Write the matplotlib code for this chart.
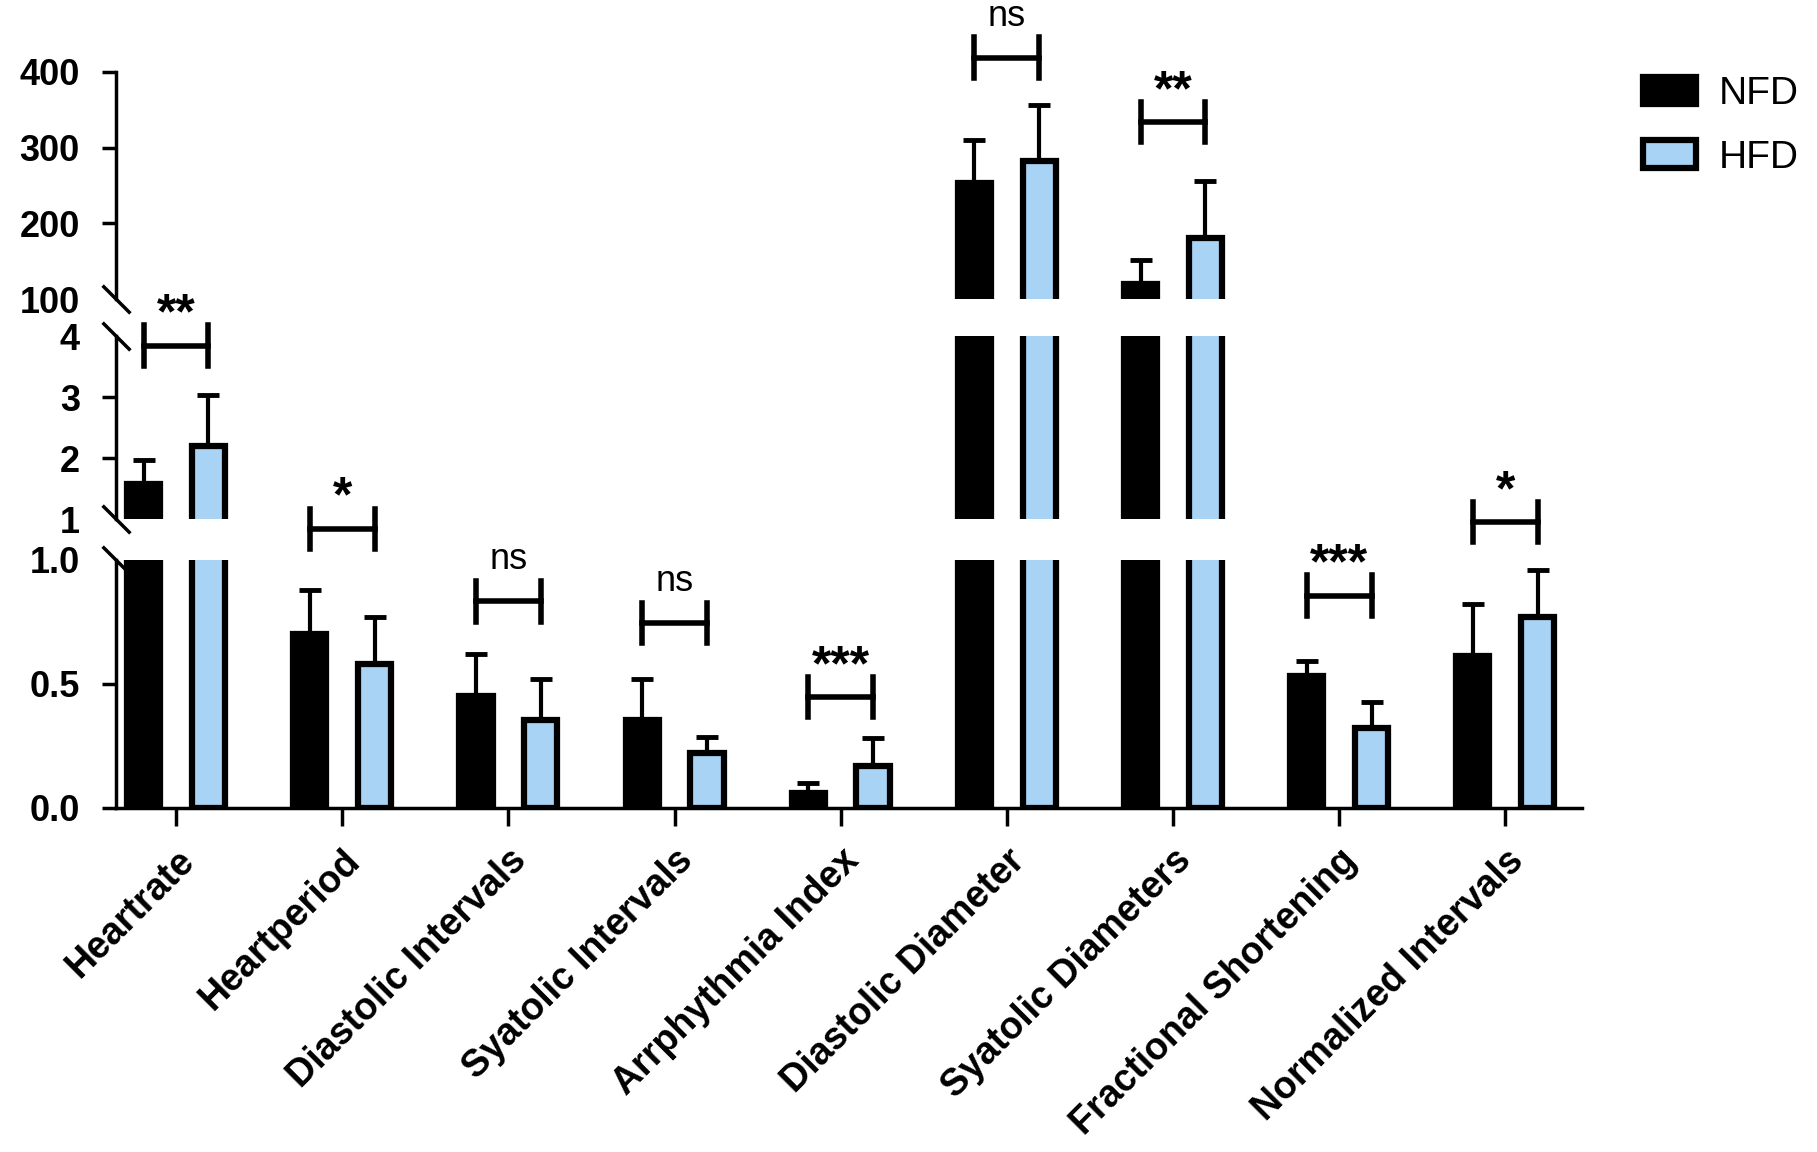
import numpy as np
import matplotlib
matplotlib.use("Agg")
import matplotlib.pyplot as plt
from matplotlib.patches import Patch
from matplotlib import transforms

plt.rcParams['font.family'] = ['Liberation Sans', 'DejaVu Sans']

# ---------------- data ----------------
CATEGORIES = ["Heartrate", "Heartperiod", "Diastolic Intervals", "Syatolic Intervals",
              "Arrphythmia Index", "Diastolic Diameter", "Syatolic Diameters",
              "Fractional Shortening", "Normalized Intervals"]
NFD_MEAN = [1.57, 0.70, 0.45, 0.355, 0.06, 253, 120, 0.53, 0.61]
NFD_SD = [0.40, 0.18, 0.17, 0.165, 0.04, 57, 32, 0.06, 0.21]
HFD_MEAN = [2.20, 0.58, 0.355, 0.22, 0.17, 282, 181, 0.32, 0.77]
HFD_SD = [0.83, 0.19, 0.165, 0.065, 0.11, 74, 75, 0.105, 0.19]
SIGNIF = ["**", "*", "ns", "ns", "***", "ns", "**", "***", "*"]

# bracket heights in figure fraction (annotation layout)
BRACKET_Y = [0.700, 0.541, 0.478, 0.459, 0.395, 0.950, 0.894, 0.483, 0.547]

NFD_COLOR = "#000000"
HFD_COLOR = "#a9d3f5"

BAR_W = 0.20
OFFSET = 0.195
EDGE_LW = 4.5

x = np.arange(len(CATEGORIES))

fig = plt.figure(figsize=(18.17, 11.52), dpi=100)

LEFT, WIDTH = 0.0638, 0.8067
ax_bot = fig.add_axes([LEFT, 0.2988, WIDTH, 0.2153])
ax_mid = fig.add_axes([LEFT, 0.5493, WIDTH, 0.1589], sharex=ax_bot)
ax_top = fig.add_axes([LEFT, 0.7404, WIDTH, 0.1972], sharex=ax_bot)

panels = [
    (ax_bot, (0, 1.0), [0.0, 0.5, 1.0], ["0.0", "0.5", "1.0"], [2]),
    (ax_mid, (1, 4), [1, 2, 3, 4], ["1", "2", "3", "4"], [0, 3]),
    (ax_top, (100, 400), [100, 200, 300, 400], ["100", "200", "300", "400"], [0]),
]

for ax, ylim, ticks, labels, hide in panels:
    ax.bar(x - OFFSET, NFD_MEAN, width=BAR_W, color=NFD_COLOR,
           edgecolor="black", linewidth=EDGE_LW, zorder=2)
    ax.bar(x + OFFSET, HFD_MEAN, width=BAR_W, color=HFD_COLOR,
           edgecolor="black", linewidth=EDGE_LW, zorder=2)
    ax.errorbar(x - OFFSET, NFD_MEAN, yerr=[np.zeros(len(x)), NFD_SD], fmt="none",
                ecolor="black", elinewidth=3, capsize=8, capthick=3.5, zorder=1)
    ax.errorbar(x + OFFSET, HFD_MEAN, yerr=[np.zeros(len(x)), HFD_SD], fmt="none",
                ecolor="black", elinewidth=3, capsize=8, capthick=3.5, zorder=1)
    ax.set_ylim(*ylim)
    ax.set_yticks(ticks)
    ax.set_yticklabels(labels, fontsize=26, fontweight="bold")
    for s in ["top", "right"]:
        ax.spines[s].set_visible(False)
    ax.spines["left"].set_linewidth(2.5)
    ax.tick_params(axis="y", length=10, width=2.5, direction="out", pad=16)
    for i in hide:
        ax.yaxis.get_major_ticks()[i].tick1line.set_visible(False)
    if ax is not ax_bot:
        ax.spines["bottom"].set_visible(False)
        ax.tick_params(axis="x", bottom=False, labelbottom=False)
    ax.patch.set_visible(False)

ax_bot.set_xlim(-0.362, 8.46)
ax_bot.spines["bottom"].set_linewidth(2.5)
ax_bot.set_xticks(x)
ax_bot.set_xticklabels(CATEGORIES, rotation=45, ha="right", rotation_mode="anchor",
                       fontsize=27, fontweight="bold")
ax_bot.tick_params(axis="x", length=13, width=2.5, direction="out", pad=12)

# break marks on the left spine
brk = dict(marker=[(-1, 1), (1, -1)], markersize=20, mew=2.5, color="black",
           linestyle="none", clip_on=False)
ax_bot.plot([0], [1], transform=ax_bot.transAxes, **brk)
ax_mid.plot([0, 0], [0, 1], transform=ax_mid.transAxes, **brk)
ax_top.plot([0], [0], transform=ax_top.transAxes, **brk)

# significance brackets
tr = transforms.blended_transform_factory(ax_bot.transData, fig.transFigure)
cap = 0.0175
for xi, yb, lab in zip(x, BRACKET_Y, SIGNIF):
    x0, x1 = xi - OFFSET, xi + OFFSET
    fig.lines.append(plt.Line2D([x0, x1], [yb, yb], transform=tr, color="black", lw=4))
    fig.lines.append(plt.Line2D([x0, x0], [yb - cap, yb + cap], transform=tr, color="black", lw=4))
    fig.lines.append(plt.Line2D([x1, x1], [yb - cap, yb + cap], transform=tr, color="black", lw=4))
    if lab == "ns":
        fig.text(xi, yb + 0.036, lab, transform=tr, ha="center", va="center", fontsize=26)
    else:
        fig.text(xi, yb + 0.026, lab, transform=tr, ha="center", va="center",
                 fontsize=36, fontweight="bold")

handles = [Patch(facecolor=NFD_COLOR, edgecolor="black", linewidth=EDGE_LW),
           Patch(facecolor=HFD_COLOR, edgecolor="black", linewidth=EDGE_LW)]
fig.legend(handles, ["NFD", "HFD"], loc="upper left", bbox_to_anchor=(0.885, 0.964),
           frameon=False, fontsize=28, handlelength=1.35, handleheight=0.7,
           labelspacing=0.7, handletextpad=0.6)

fig.savefig("out.png", dpi=100, facecolor="white")
